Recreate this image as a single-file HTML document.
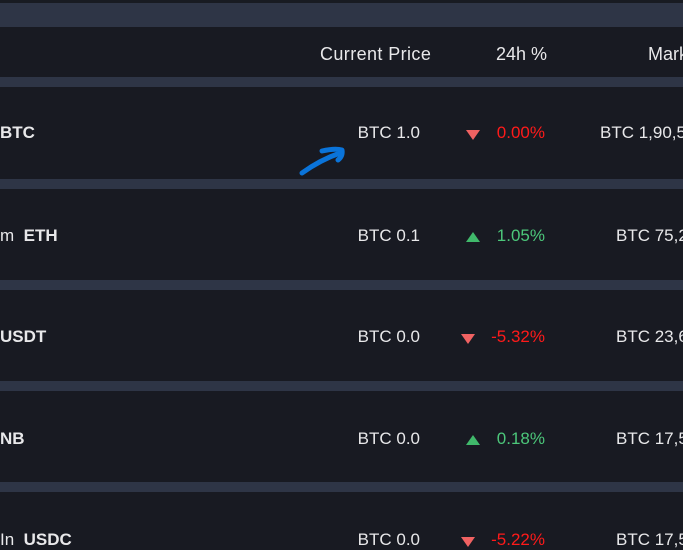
<!DOCTYPE html>
<html style="overflow:hidden"><head><meta charset="utf-8"><style>
html,body{overflow:hidden}
body{margin:0;width:683px;height:550px;background:#181a22;font-family:"Liberation Sans",sans-serif;color:#e8e8ea;position:relative}
#wrap{position:absolute;left:0;top:0;width:683px;height:550px;overflow:hidden}
#wrap div{position:absolute}
.band{left:0;width:683px;background:#2e3546}
.t{font-size:17px;white-space:nowrap;line-height:20px}
.r{text-align:right}
.red{color:#ff1a1a}.grn{color:#4cc77a}
.tri{width:0;height:0;border-left:7px solid transparent;border-right:7px solid transparent}
.dn{border-top:10px solid #f06262}.up{border-bottom:10px solid #40b96b}
</style></head><body>
<div id="wrap">
<div style="left:0;top:0;width:683px;height:3px;background:#181b22"></div>
<div class="band" style="top:3px;height:24px"></div>
<div class="t" style="left:320px;top:44px;font-size:18px;letter-spacing:0.4px">Current Price</div>
<div class="t" style="left:496px;top:44px;font-size:18px">24h %</div>
<div class="t" style="left:648px;top:44px;font-size:18px">Market Cap</div>
<div class="band" style="top:77px;height:10px"></div>
<div class="band" style="top:179px;height:10px"></div>
<div class="band" style="top:280px;height:10px"></div>
<div class="band" style="top:381px;height:10px"></div>
<div class="band" style="top:482px;height:10px"></div>

<div class="t" style="left:0;top:123px;font-weight:bold">BTC</div>
<div class="t r" style="left:300px;width:120px;top:123px">BTC 1.0</div>
<div class="tri dn" style="left:466px;top:130px"></div>
<div class="t r red" style="left:460px;width:85px;top:123px">0.00%</div>
<div class="t" style="left:600px;top:123px">BTC 1,90,5</div>

<div class="t" style="left:0;top:226px"><span>m</span>&nbsp;&nbsp;<b>ETH</b></div>
<div class="t r" style="left:300px;width:120px;top:226px">BTC 0.1</div>
<div class="tri up" style="left:466px;top:232px"></div>
<div class="t r grn" style="left:460px;width:85px;top:226px">1.05%</div>
<div class="t" style="left:616px;top:226px">BTC 75,2</div>

<div class="t" style="left:0;top:327px;font-weight:bold">USDT</div>
<div class="t r" style="left:300px;width:120px;top:327px">BTC 0.0</div>
<div class="tri dn" style="left:461px;top:334px"></div>
<div class="t r red" style="left:460px;width:85px;top:327px">-5.32%</div>
<div class="t" style="left:616px;top:327px">BTC 23,6</div>

<div class="t" style="left:0;top:429px;font-weight:bold">NB</div>
<div class="t r" style="left:300px;width:120px;top:429px">BTC 0.0</div>
<div class="tri up" style="left:466px;top:435px"></div>
<div class="t r grn" style="left:460px;width:85px;top:429px">0.18%</div>
<div class="t" style="left:616px;top:429px">BTC 17,5</div>

<div class="t" style="left:0;top:530px"><span>In</span>&nbsp;&nbsp;<b>USDC</b></div>
<div class="t r" style="left:300px;width:120px;top:530px">BTC 0.0</div>
<div class="tri dn" style="left:461px;top:537px"></div>
<div class="t r red" style="left:460px;width:85px;top:530px">-5.22%</div>
<div class="t" style="left:616px;top:530px">BTC 17,5</div>

<svg style="position:absolute;left:0;top:0" width="683" height="550">
<path d="M302 173 Q320 160 340 153 M322 151 Q335 148 342 150 Q343 156 338 160" fill="none" stroke="#0a74da" stroke-width="5" stroke-linecap="round" stroke-linejoin="round"/>
</svg>
</div>
</body></html>
